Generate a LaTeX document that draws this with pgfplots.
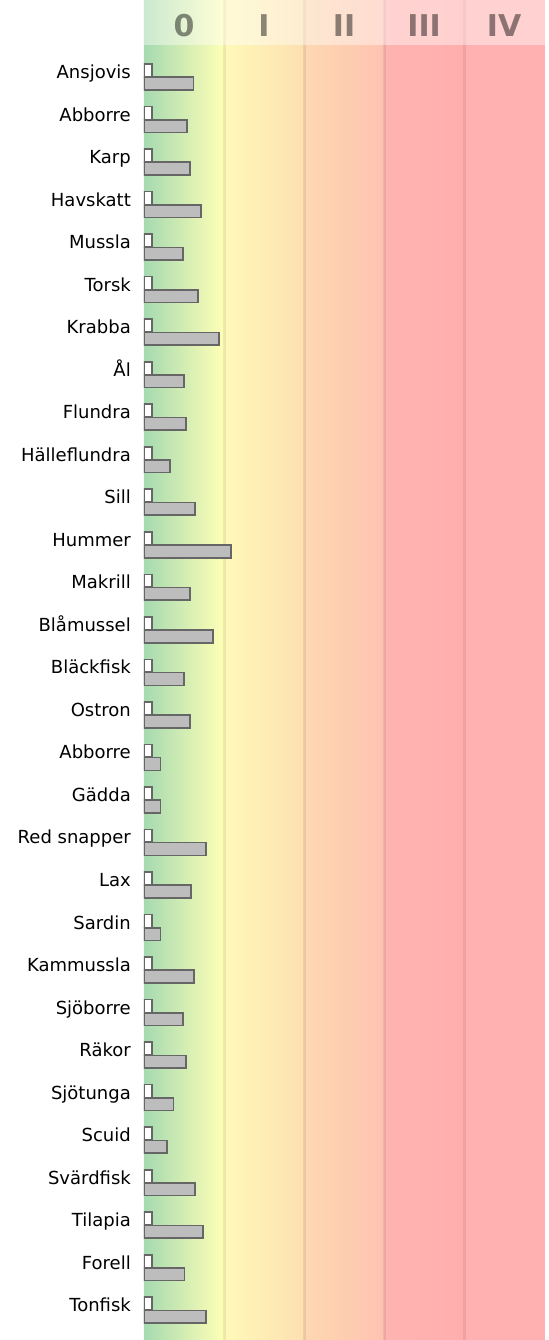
\documentclass[border=0pt]{standalone}
\usepackage{fontspec}
\setmainfont{DejaVu Sans}
\usepackage{pgfplots}
\pgfplotsset{compat=1.18}
\usepackage{pgfplotstable}

\definecolor{bZa}{HTML}{A6DAB0}
\definecolor{bZb}{HTML}{FFFFB6}
\definecolor{bIa}{HTML}{FFF9B8}
\definecolor{bIb}{HTML}{FDE0B1}
\definecolor{bIIa}{HTML}{FDD8B1}
\definecolor{bIIb}{HTML}{FFC3B1}
\definecolor{bIIIa}{HTML}{FFB4B0}
\definecolor{bIIIb}{HTML}{FFAEAE}
\definecolor{bIV}{HTML}{FFB0B1}
\definecolor{barfill}{HTML}{BDBDBD}
\definecolor{barline}{HTML}{666666}

\pgfplotstableread{
idx white gray
0 0.1 0.62
1 0.1 0.54
2 0.1 0.575
3 0.1 0.71
4 0.1 0.49
5 0.1 0.675
6 0.1 0.94
7 0.1 0.50
8 0.1 0.525
9 0.1 0.325
10 0.1 0.64
11 0.1 1.09
12 0.1 0.575
13 0.1 0.86
14 0.1 0.50
15 0.1 0.575
16 0.1 0.205
17 0.1 0.205
18 0.1 0.775
19 0.1 0.59
20 0.1 0.205
21 0.1 0.625
22 0.1 0.49
23 0.1 0.525
24 0.1 0.37
25 0.1 0.29
26 0.1 0.64
27 0.1 0.74
28 0.1 0.505
29 0.1 0.775
}\fishdata

\begin{document}
\begin{tikzpicture}
\useasboundingbox (-144bp,0) rectangle (405bp,1340bp);
\begin{axis}[
  at={(0,0)}, anchor=south west,
  scale only axis, width=401bp, height=1340bp,
  xmin=0, xmax=5.01, ymin=-1.81, ymax=29.7, y dir=reverse,
  axis line style={draw=none},
  xtick=\empty,
  ytick={0,...,29},
  major tick length=0pt,
  yticklabels={Ansjovis,Abborre,Karp,Havskatt,Mussla,Torsk,Krabba,Ål,Flundra,Hälleflundra,Sill,Hummer,Makrill,Blåmussel,Bläckfisk,Ostron,Abborre,Gädda,Red snapper,Lax,Sardin,Kammussla,Sjöborre,Räkor,Sjötunga,Scuid,Svärdfisk,Tilapia,Forell,Tonfisk},
  yticklabel style={font=\fontsize{18bp}{20bp}\selectfont, anchor=base east, inner sep=0pt, xshift=-13bp, yshift=-1.5bp, text=black},
  xbar, bar width=0.3,
]
% background bands
\fill[left color=bZa, right color=bZb] (axis cs:0,-1.81) rectangle (axis cs:1,29.7);
\fill[left color=bIa, right color=bIb] (axis cs:1,-1.81) rectangle (axis cs:2,29.7);
\fill[left color=bIIa, right color=bIIb] (axis cs:2,-1.81) rectangle (axis cs:3,29.7);
\fill[left color=bIIIa, right color=bIIIb] (axis cs:3,-1.81) rectangle (axis cs:4,29.7);
\fill[bIV] (axis cs:4,-1.81) rectangle (axis cs:5.01,29.7);
\foreach \k in {1,2,3,4} {
  \edef\temp{\noexpand\draw[black, opacity=0.07, line width=3bp] (axis cs:\k,-1.81) -- (axis cs:\k,29.7);}
  \temp
}
% header overlay
\fill[white, opacity=0.42] (axis cs:0,-1.81) rectangle (axis cs:5.01,-0.752);
\node[font=\fontsize{30bp}{30bp}\selectfont\bfseries, text=black, text opacity=0.45] at (axis cs:0.5,-1.22) {0};
\node[font=\fontsize{30bp}{30bp}\selectfont\bfseries, text=black, text opacity=0.45] at (axis cs:1.5,-1.22) {I};
\node[font=\fontsize{30bp}{30bp}\selectfont\bfseries, text=black, text opacity=0.45] at (axis cs:2.5,-1.22) {II};
\node[font=\fontsize{30bp}{30bp}\selectfont\bfseries, text=black, text opacity=0.45] at (axis cs:3.5,-1.22) {III};
\node[font=\fontsize{30bp}{30bp}\selectfont\bfseries, text=black, text opacity=0.45] at (axis cs:4.5,-1.22) {IV};
\addplot[fill=white, draw=barline, line width=1.6bp, bar shift=-0.155] table[x=white, y=idx] {\fishdata};
\addplot[fill=barfill, draw=barline, line width=1.6bp, bar shift=0.155] table[x=gray, y=idx] {\fishdata};
\end{axis}
\end{tikzpicture}
\end{document}
